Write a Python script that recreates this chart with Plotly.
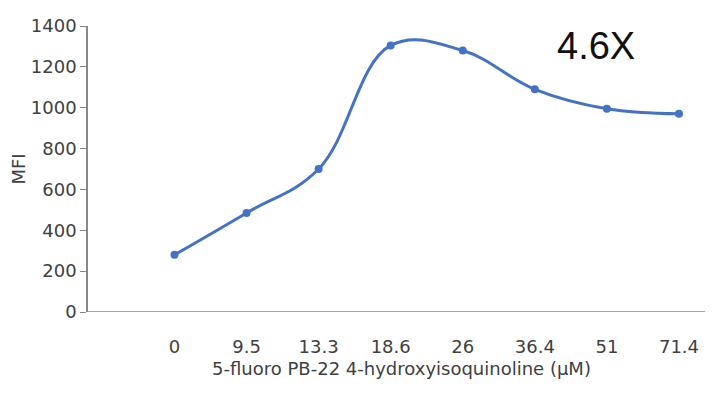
import plotly.graph_objects as go

concentration = ["0", "9.5", "13.3", "18.6", "26", "36.4", "51", "71.4"]
mfi = [280, 485, 700, 1305, 1280, 1090, 995, 970]

fig = go.Figure()
fig.add_trace(go.Scatter(
    x=list(range(len(concentration))), y=mfi,
    mode="lines+markers",
    line=dict(color="#4472C4", width=3, shape="spline", smoothing=1.1),
    marker=dict(size=8, color="#4472C4"),
))

fig.add_annotation(x=5.85, y=1300, text="4.6X", showarrow=False,
                   font=dict(size=38, color="#111111", family="Liberation Sans"))

fig.update_layout(
    width=713, height=404,
    margin=dict(l=75, r=6, t=18, b=100),
    plot_bgcolor="white", paper_bgcolor="white",
    showlegend=False,
    font=dict(family="DejaVu Sans", color="#404040", size=18),
    xaxis=dict(
        tickmode="array", tickvals=list(range(len(concentration))),
        ticktext=concentration, range=[-1.2, 7.5],
        showgrid=False, zeroline=False, showline=False,
        title=dict(text="5-fluoro PB-22 4-hydroxyisoquinoline (µM)", standoff=6,
                   font=dict(size=18)),
        ticks="", ticklabelstandoff=22,
    ),
    yaxis=dict(
        range=[0, 1400], dtick=200,
        showgrid=False, zeroline=False,
        showline=True, linecolor="#888888", linewidth=1.5,
        ticks="outside", ticklen=6, tickcolor="#888888",
        title=dict(text="MFI", standoff=4, font=dict(size=18)),
    ),
)
fig.add_shape(type="line", xref="paper", yref="y", x0=0, x1=1, y0=0, y1=0,
              line=dict(color="#888888", width=1.5))

fig.write_html("out.html")
